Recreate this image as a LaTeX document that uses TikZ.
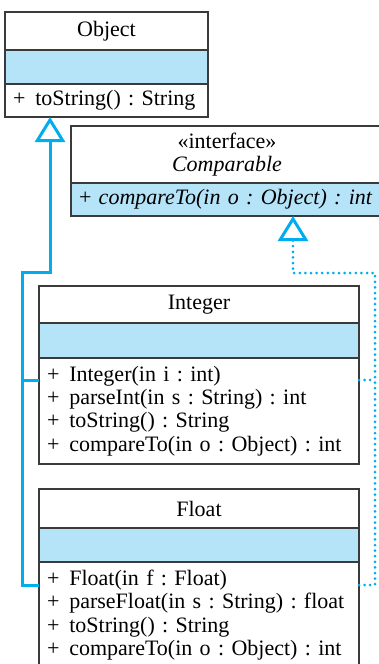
\documentclass[tikz,border=0pt]{standalone}
\usepackage{fontspec}
\setmainfont{Liberation Serif}
\usetikzlibrary{arrows.meta, positioning}
\definecolor{umlblue}{HTML}{B5E3F8}
\definecolor{umlcyan}{HTML}{00AEEF}
\definecolor{umlgray}{HTML}{3A3A3A}
\frenchspacing
\newcommand{\pub}{+\hspace{0.45em}}

\begin{document}
\begin{tikzpicture}[
  x=1pt, y=-1pt,
  every node/.style={font=\fontsize{22}{23.3}\selectfont},
  part/.style={draw=umlgray, line width=1.3pt, inner sep=0pt, outer sep=0pt, anchor=north west},
  head/.style={part, fill=white, align=center},
  band/.style={part, fill=umlblue},
  ops/.style={part, fill=white, align=left, inner xsep=8pt},
  gen/.style={draw=umlcyan, line width=3pt, -{Triangle[open, length=25pt, width=30pt]}},
  genline/.style={draw=umlcyan, line width=3pt},
  real/.style={draw=umlcyan, line width=3pt, line cap=round, dash pattern=on 0pt off 5.6pt, -{Triangle[open, length=25pt, width=30pt, line width=3pt]}},
  realline/.style={draw=umlcyan, line width=3pt, line cap=round, dash pattern=on 0pt off 5.6pt}
]
\useasboundingbox (0,0) rectangle (378,664);

% Object
\node[head, minimum width=203pt, minimum height=38pt] (objName) at (5,12) {Object};
\node[band, minimum width=203pt, minimum height=34pt, below=0pt of objName.south west, anchor=north west] (objAttr) {};
\node[ops, text width=187pt, minimum height=33pt, below=0pt of objAttr.south west, anchor=north west] (objOps)
  {\pub toString() : String};

% Comparable
\node[head, minimum width=312pt, minimum height=57pt] (cmpName) at (71,126)
  {«interface»\\\textit{Comparable}};
\node[band, ops, fill=umlblue, text width=312pt, minimum height=33pt, below=0pt of cmpName.south west, anchor=north west] (cmpOps)
  {+ \textit{compareTo(in o : Object) : int}};

% Integer
\node[head, minimum width=320pt, minimum height=37pt] (intName) at (39,286) {Integer};
\node[band, minimum width=320pt, minimum height=35pt, below=0pt of intName.south west, anchor=north west] (intAttr) {};
\node[ops, text width=304pt, minimum height=106pt, below=0pt of intAttr.south west, anchor=north west] (intOps)
  {\pub Integer(in i : int)\\
   \pub parseInt(in s : String) : int\\
   \pub toString() : String\\
   \pub compareTo(in o : Object) : int};

% Float
\node[head, minimum width=320pt, minimum height=39pt] (fltName) at (39,489) {Float};
\node[band, minimum width=320pt, minimum height=34pt, below=0pt of fltName.south west, anchor=north west] (fltAttr) {};
\node[ops, text width=304pt, minimum height=106pt, below=0pt of fltAttr.south west, anchor=north west] (fltOps)
  {\pub Float(in f : Float)\\
   \pub parseFloat(in s : String) : float\\
   \pub toString() : String\\
   \pub compareTo(in o : Object) : int};

% Generalization -> Object
\draw[gen] ([yshift=-23pt]fltOps.north west) -| ++(-17,-313) -| ([xshift=45pt]objOps.south west);
\draw[genline] ([yshift=-22pt]intOps.north west) -- ++(-17,0);

% Realization -> Comparable
\draw[real] ([yshift=-23pt]fltOps.north east) -| ++(16,-312) -| ([xshift=222pt]cmpOps.south west);
\draw[realline] ([yshift=-22pt]intOps.north east) -- ++(16,0);

\end{tikzpicture}
\end{document}
